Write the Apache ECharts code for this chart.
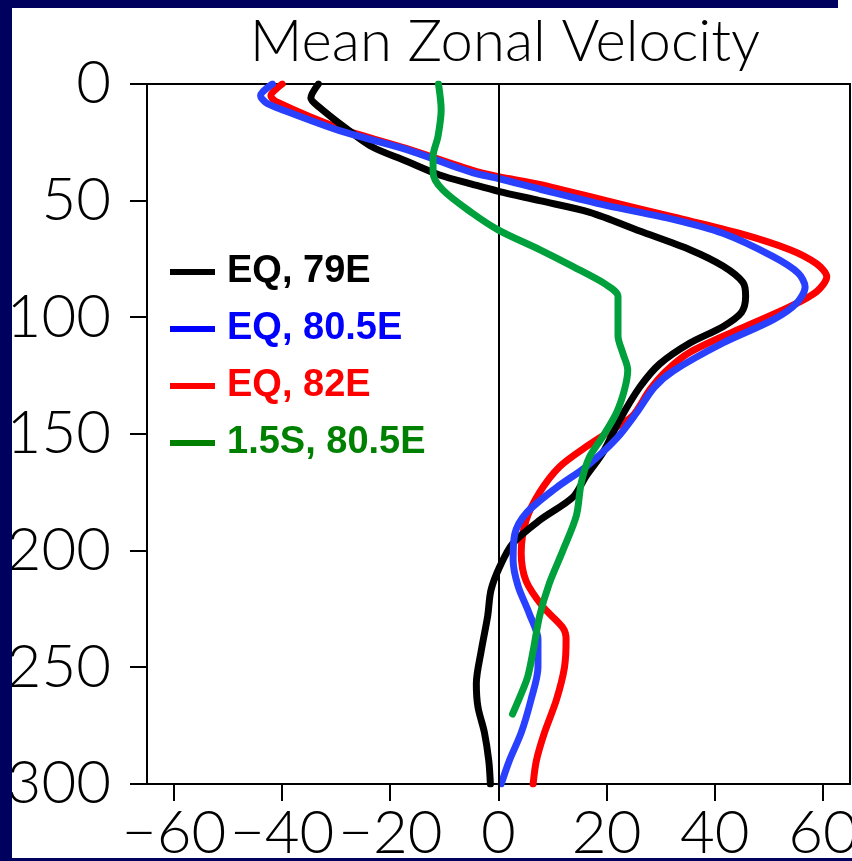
<!DOCTYPE html>
<html>
<head>
<meta charset="utf-8">
<script src="https://cdn.jsdelivr.net/npm/echarts@6/dist/echarts.min.js"></script>
<style>
html,body{margin:0;padding:0;background:#ffffff;}
#wrap{position:relative;width:852px;height:861px;overflow:hidden;background:#ffffff;}
#chart{position:absolute;left:0;top:0;width:852px;height:861px;}
.frame{position:absolute;background:#00005e;pointer-events:none;z-index:5;}
.tick{position:absolute;background:#000;pointer-events:none;z-index:4;}
</style>
</head>
<body>
<div id="wrap">
<div id="chart"></div>
<div class="frame" style="left:0;top:0;width:838px;height:8px;"></div>
<div class="frame" style="left:0;top:0;width:12px;height:861px;"></div>
<div class="frame" style="left:0;top:858px;width:852px;height:3px;"></div>
</div>
<script>
const titleText = 'Mean Zonal Velocity';
const seriesNames = ['EQ, 79E', 'EQ, 80.5E', 'EQ, 82E', '1.5S, 80.5E'];
const xTicks = [-60, -40, -20, 0, 20, 40, 60];
const yTicks = [0, 50, 100, 150, 200, 250, 300];

const blackDepth = [0, 6, 10, 19, 27, 33, 39, 43, 46, 50, 55, 63, 71, 78, 85, 91, 98, 104, 111, 120, 130, 144, 158, 168, 177, 187, 197, 207, 217, 228, 243, 257, 267, 278, 290, 300];
const blackU = [-33.3, -34.7, -33.1, -28.2, -23.3, -17.1, -10.9, -4.8, 0, 7.6, 16.9, 26.1, 35.4, 41.5, 45.2, 45.7, 44.9, 41.5, 35.4, 29.8, 26.1, 22.4, 19.3, 16.2, 13.8, 7.6, 2.6, 0.2, -1.4, -2, -3.2, -4.1, -3.8, -2.6, -1.8, -1.5];

const blueDepth = [0, 5, 8, 10.5, 20, 28, 38, 40.5, 45, 52, 58, 64, 74, 81, 87, 94, 101, 111, 123, 130, 141, 152, 164, 173, 184, 193, 204, 215, 227, 238, 250, 264, 278, 290, 300];
const blueU = [-41.8, -44, -43, -40.6, -29.4, -17.1, -4.8, 0, 7.6, 19.9, 32.3, 41.5, 50.8, 55.4, 56.7, 55.1, 50.8, 41.5, 32.3, 28.8, 25.5, 21.8, 16.2, 10.7, 5.1, 3, 2.7, 3.6, 5.7, 7.3, 7.3, 6, 4.2, 2, 0.5];

const redDepth = [0, 5, 7.5, 19, 27.6, 37, 39.7, 43, 50, 57, 64, 71, 77, 82.6, 89, 95.4, 105, 115, 123, 131, 142, 147, 155, 164, 175, 187, 201, 213, 224, 233, 238, 250, 264, 278, 290, 300];
const redU = [-40, -42.1, -41.2, -29.4, -17.1, -4.8, 0, 7.6, 19.9, 32.3, 44.6, 53.9, 58.8, 60.7, 58.8, 53.9, 44.6, 35.4, 31, 28, 24.9, 21.8, 16.5, 11.3, 7.6, 5.1, 4.2, 5.1, 8.2, 11.9, 12.5, 12.2, 10.7, 8.5, 7, 6.4];

const greenDepth = [0, 11, 22.6, 31, 38, 45.4, 55.4, 62.6, 71, 78.3, 86, 91, 108, 115.4, 122.6, 131, 141, 151, 160, 171, 185, 200, 214, 228, 243, 254, 263, 270];
const greenU = [-11.1, -10.6, -11.2, -12.1, -12.1, -10.3, -4.8, 0, 7.6, 13.8, 19.9, 22.1, 22.1, 23, 23.9, 23.3, 21.8, 19.3, 16.8, 15.3, 14.4, 11.9, 9.4, 7.6, 6.4, 5.4, 3.9, 2.6];

function pairs(u, d) { return u.map((v, i) => [v, d[i]]); }

const X_MIN = -65, X_MAX = 65, Y_MIN = 0, Y_MAX = 300;
const TICK_LEN = 17;
const thinFont = 'Lato';
const thinWeight = 300;
const axisFontSize = 60;

const chart = echarts.init(document.getElementById('chart'), null, {renderer: 'canvas'});

function lineSeries(name, u, d, color, z) {
  return {
    name: name, type: 'line', data: pairs(u, d), smooth: 0.3, symbol: 'none',
    z: z, lineStyle: {color: color, width: 7, cap: 'round', join: 'round'},
    itemStyle: {color: color}
  };
}

const series = [
  lineSeries(seriesNames[2], redU, redDepth, '#ff0000', 2),
  lineSeries(seriesNames[0], blackU, blackDepth, '#000000', 3),
  lineSeries(seriesNames[1], blueU, blueDepth, '#2a40ff', 4),
  lineSeries(seriesNames[3], greenU, greenDepth, '#00a03c', 5)
];
series[0].markLine = {
  silent: true, symbol: 'none', label: {show: false},
  lineStyle: {color: '#000', width: 2, type: 'solid'},
  data: [{xAxis: 0}]
};

const legendColors = ['#000000', '#0000ff', '#ff0000', '#008000'];

chart.setOption({
  backgroundColor: 'transparent',
  animation: false,
  title: {
    text: titleText, left: 500, textAlign: 'center', top: 8,
    textStyle: {fontFamily: thinFont, fontWeight: thinWeight, fontSize: 58, color: '#000'}
  },
  legend: {
    orient: 'vertical', left: 165, top: 247, itemWidth: 45, itemHeight: 6, itemGap: 17,
    icon: 'rect',
    data: seriesNames.map((n, i) => ({
      name: n, icon: 'rect', itemStyle: {color: legendColors[i]},
      textStyle: {color: legendColors[i]}
    })),
    textStyle: {fontFamily: 'Liberation Sans', fontWeight: 'bold', fontSize: 38, lineHeight: 40, padding: [0, 0, 0, 7]}
  },
  grid: {left: 147, top: 84, width: 703, height: 700, show: true, borderColor: '#000', borderWidth: 2, backgroundColor: 'transparent', outerBoundsMode: 'none', containLabel: false},
  xAxis: {
    type: 'value', min: X_MIN, max: X_MAX, position: 'bottom',
    axisLine: {show: true, onZero: false, lineStyle: {color: '#000', width: 2}},
    axisTick: {show: false},
    axisLabel: {
      show: true, margin: 20, customValues: xTicks,
      formatter: v => (v < 0 ? '\u2212' + Math.abs(v) : String(v)),
      fontFamily: thinFont, fontWeight: thinWeight, fontSize: axisFontSize, color: '#000'
    },
    splitLine: {show: false}
  },
  yAxis: {
    type: 'value', min: Y_MIN, max: Y_MAX, interval: 50, inverse: true, position: 'left',
    axisLine: {show: true, onZero: false, lineStyle: {color: '#000', width: 2}},
    axisTick: {show: false},
    axisLabel: {
      show: true, margin: 36,
      fontFamily: thinFont, fontWeight: thinWeight, fontSize: axisFontSize, color: '#000'
    },
    splitLine: {show: false}
  },
  series: series
});

// outward axis ticks, positioned through the chart's own axis scales
function toPx(pt) {
  const finders = [{seriesIndex: 0}, {xAxisIndex: 0, yAxisIndex: 0}, {gridIndex: 0}];
  for (const f of finders) {
    try {
      const p = chart.convertToPixel(f, pt);
      if (p && isFinite(p[0]) && isFinite(p[1])) return p;
    } catch (e) {}
  }
  return null;
}
const wrap = document.getElementById('wrap');
function addTick(x, y, w, h) {
  const d = document.createElement('div');
  d.className = 'tick';
  d.style.left = x + 'px'; d.style.top = y + 'px';
  d.style.width = w + 'px'; d.style.height = h + 'px';
  wrap.appendChild(d);
}
xTicks.forEach(v => {
  const p = toPx([v, Y_MAX]);
  if (p) addTick(Math.round(p[0]) - 1, Math.round(p[1]), 2, TICK_LEN);
});
yTicks.forEach(v => {
  const p = toPx([X_MIN, v]);
  if (p) addTick(Math.round(p[0]) - TICK_LEN, Math.round(p[1]) - 1, TICK_LEN, 2);
});
</script>
</body>
</html>
